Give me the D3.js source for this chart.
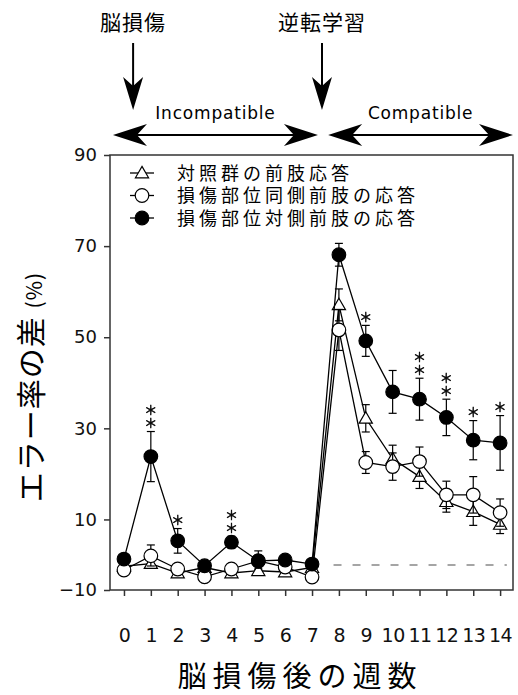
<!DOCTYPE html>
<html>
<head>
<meta charset="utf-8">
<script src="https://cdn.jsdelivr.net/npm/d3@7"></script>
<style>
  html, body { margin: 0; padding: 0; background: #fff; }
  svg { display: block; }
  .jp { font-family: "Noto Sans CJK JP", "Noto Sans", sans-serif; }
  .num { font-family: "DejaVu Sans", sans-serif; }
  .star { writing-mode: vertical-rl; filter: grayscale(100%); }
</style>
</head>
<body>
<svg id="svg" width="518" height="695"></svg>
<script>
// --- Data ------------------------------------------------------------------
const weeks = [0, 1, 2, 3, 4, 5, 6, 7, 8, 9, 10, 11, 12, 13, 14];
const yTicks = [-10, 10, 30, 50, 70, 90];

// 損傷部位対側前肢の応答 (filled circle)
const contra   = [1.3, 23.8, 5.3, -0.3, 5.0, 0.9, 1.1, 0.2, 68.1, 49.2, 38.0, 36.4, 32.4, 27.4, 26.8];
const contraSE = [0.8, 5.5, 2.7, 0.5, 1.3, 0.8, 0.5, 0.5, 2.5, 3.4, 4.7, 4.6, 4.0, 4.3, 6.0];
// 損傷部位同側前肢の応答 (open circle)
const ipsi     = [-2.0, 2.0, -1.6, -4.7, -1.6, 0.9, -0.8, -4.8, 51.6, 22.5, 21.6, 22.7, 15.4, 15.4, 11.5];
const ipsiSE   = [0.5, 2.4, 0.5, 0.5, 0.8, 2.2, 0.5, 0.5, 4.5, 2.4, 3.0, 3.2, 3.0, 4.0, 3.0];
// 対照群の前肢応答 (open triangle)
const control   = [-0.5, 0.3, -3.2, -1.0, -3.2, -2.3, -2.8, -1.0, 57.1, 32.2, 23.3, 19.4, 13.9, 11.7, 8.9];
const controlSE = [0.5, 0.8, 0.5, 0.5, 0.5, 0.5, 0.5, 0.5, 3.5, 3.0, 3.0, 2.6, 2.3, 3.0, 2.0];

const signif = ["", "＊＊", "＊", "", "＊＊", "", "", "", "", "＊", "", "＊＊", "＊＊", "＊", "＊"];

const legendLabels = ["対照群の前肢応答", "損傷部位同側前肢の応答", "損傷部位対側前肢の応答"];

// --- Layout ----------------------------------------------------------------
const svg = d3.select("#svg");
const L = 110, R = 513, T = 155, B = 590;

const x = d3.scaleLinear().domain([-0.52, 14.48]).range([L, R]);
// axis bottom is compressed below zero, as in the original figure
const y = d3.scaleLinear().domain([-10, 0, 90]).range([B, 565, T]);

// --- Frame & axes ----------------------------------------------------------
svg.append("rect")
  .attr("x", L).attr("y", T).attr("width", R - L).attr("height", B - T)
  .attr("fill", "none").attr("stroke", "#333").attr("stroke-width", 1.5);

const yAxis = svg.append("g")
  .attr("transform", `translate(${L},0)`)
  .call(d3.axisLeft(y).tickValues(yTicks).tickSize(6).tickPadding(7).tickFormat(d => d < 0 ? "\u2212" + Math.abs(d) : d));
yAxis.select(".domain").remove();
yAxis.selectAll("line").attr("stroke", "#333").attr("stroke-width", 1.5);
yAxis.selectAll("text").attr("class", "num").attr("font-size", 18).attr("fill", "#111");

const xAxis = svg.append("g")
  .attr("transform", `translate(0,${B})`)
  .call(d3.axisBottom(x).tickValues(weeks).tickSize(6).tickPadding(33).tickFormat(d3.format("d")));
xAxis.select(".domain").remove();
xAxis.selectAll("line").attr("stroke", "#333").attr("stroke-width", 1.5);
xAxis.selectAll("text").attr("class", "num").attr("font-size", 19).attr("fill", "#111")
  .attr("letter-spacing", -0.5);

// zero reference (dashed) for compatible phase
svg.append("line")
  .attr("x1", x(7.8)).attr("x2", x(14.25))
  .attr("y1", y(0)).attr("y2", y(0))
  .attr("stroke", "#888").attr("stroke-width", 1.5)
  .attr("stroke-dasharray", "8,11");

// --- Titles ----------------------------------------------------------------
svg.append("text").attr("class", "jp")
  .attr("x", 300).attr("y", 687)
  .attr("text-anchor", "middle")
  .attr("font-size", 29).attr("letter-spacing", 6)
  .text("脳損傷後の週数");

const yt = svg.append("text").attr("class", "jp")
  .attr("transform", "translate(42,387) rotate(-90)")
  .attr("text-anchor", "middle")
  .attr("font-size", 30).attr("letter-spacing", 1);
yt.append("tspan").text("エラー率の差 ");
yt.append("tspan").attr("font-size", 21).text("(%)");

// --- Top annotations -------------------------------------------------------
function arrowHead(g, tx, ty, dx, dy, len, hw, notch) {
  const px = -dy, py = dx;
  const pts = [
    [tx, ty],
    [tx - dx * len + px * hw, ty - dy * len + py * hw],
    [tx - dx * (len - notch), ty - dy * (len - notch)],
    [tx - dx * len - px * hw, ty - dy * len - py * hw]
  ];
  g.append("path").attr("d", "M" + pts.join("L") + "Z").attr("fill", "#000");
}

const ann = svg.append("g");
const downArrows = [
  { label: "脳損傷", at: 0.34 },
  { label: "逆転学習", at: 7.37 }
];
for (const a of downArrows) {
  ann.append("text").attr("class", "jp")
    .attr("x", x(a.at)).attr("y", 30)
    .attr("text-anchor", "middle").attr("font-size", 21).attr("letter-spacing", 1)
    .text(a.label);
  ann.append("line")
    .attr("x1", x(a.at)).attr("x2", x(a.at)).attr("y1", 43).attr("y2", 95)
    .attr("stroke", "#000").attr("stroke-width", 2);
  arrowHead(ann, x(a.at), 110, 0, 1, 33, 10, 9);
}

const phases = [
  { label: "Incompatible", from: -0.41, to: 7.22 },
  { label: "Compatible", from: 7.6, to: 14.48 }
];
for (const p of phases) {
  const x0 = x(p.from), x1 = x(p.to), yy = 135;
  ann.append("line")
    .attr("x1", x0 + 20).attr("x2", x1 - 20).attr("y1", yy).attr("y2", yy)
    .attr("stroke", "#000").attr("stroke-width", 2);
  arrowHead(ann, x0, yy, -1, 0, 34, 11, 10);
  arrowHead(ann, x1, yy, 1, 0, 34, 11, 10);
  ann.append("text").attr("class", "num")
    .attr("x", (x0 + x1) / 2).attr("y", 119)
    .attr("text-anchor", "middle").attr("font-size", 17).attr("letter-spacing", 0.8)
    .text(p.label);
}

// --- Series ----------------------------------------------------------------
const series = [
  { vals: control, se: controlSE, shape: "tri", fill: "#fff" },
  { vals: ipsi, se: ipsiSE, shape: "circle", fill: "#fff" },
  { vals: contra, se: contraSE, shape: "circle", fill: "#000" }
];

const line = d3.line().x((d, i) => x(weeks[i])).y(d => y(d));
const triSym = d3.symbol().type(d3.symbolTriangle).size(75);

function drawMarker(g, shape, fill, cx, cy) {
  if (shape === "tri") {
    g.append("path").attr("d", triSym())
      .attr("transform", `translate(${cx},${cy + 1})`)
      .attr("fill", fill).attr("stroke", "#000").attr("stroke-width", 1.2);
  } else {
    g.append("circle").attr("cx", cx).attr("cy", cy).attr("r", 6.8)
      .attr("fill", fill).attr("stroke", "#000").attr("stroke-width", 1.2);
  }
}

const plot = svg.append("g");
for (const s of series) {
  const g = plot.append("g");
  g.append("path").datum(s.vals).attr("d", line)
    .attr("fill", "none").attr("stroke", "#000").attr("stroke-width", 1.3);
  s.vals.forEach((v, i) => {
    const cx = x(weeks[i]);
    const y0 = y(v - s.se[i]), y1 = y(v + s.se[i]);
    g.append("line").attr("x1", cx).attr("x2", cx).attr("y1", y0).attr("y2", y1)
      .attr("stroke", "#000").attr("stroke-width", 1.2);
    for (const yy of [y0, y1]) {
      g.append("line").attr("x1", cx - 4).attr("x2", cx + 4).attr("y1", yy).attr("y2", yy)
        .attr("stroke", "#000").attr("stroke-width", 1.2);
    }
  });
  s.vals.forEach((v, i) => drawMarker(g, s.shape, s.fill, x(weeks[i]), y(v)));
}

// significance marks above the contralateral error bars, stacked vertically
signif.forEach((s, i) => {
  if (!s) return;
  svg.append("text").attr("class", "jp star")
    .attr("x", x(weeks[i])).attr("y", y(contra[i] + contraSE[i]) - 2)
    .attr("text-anchor", "end")
    .attr("font-size", 13).attr("fill", "#000")
    .attr("stroke", "#000").attr("stroke-width", 0.5)
    .text(s);
});

// --- Legend ----------------------------------------------------------------
const legendShapes = [["tri", "#fff"], ["circle", "#fff"], ["circle", "#000"]];
const lg = svg.append("g");
const lgText = lg.append("text").attr("class", "jp")
  .attr("font-size", 18).attr("letter-spacing", 4);
legendLabels.forEach((lab, i) => {
  const yy = 173 + i * 22.5;
  lg.append("line").attr("x1", 130).attr("x2", 154).attr("y1", yy).attr("y2", yy)
    .attr("stroke", "#000").attr("stroke-width", 1.3);
  drawMarker(lg, legendShapes[i][0], legendShapes[i][1], 142, yy);
  lgText.append("tspan")
    .attr("x", 177).attr("y", yy + 6.5)
    .text(lab);
});
</script>
</body>
</html>
